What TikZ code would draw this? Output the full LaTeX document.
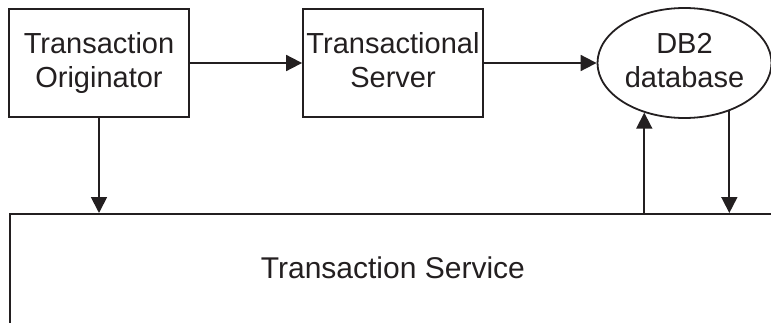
\documentclass[tikz,border=0pt]{standalone}
\usepackage{fontspec}
\setmainfont{Liberation Sans}
\usetikzlibrary{arrows.meta,shapes.geometric}

\definecolor{ink}{HTML}{231F20}
% keeps the last line of every label equally deep
\newcommand{\lastdepth}{\rule[-6pt]{0pt}{1pt}}

\begin{document}
\begin{tikzpicture}[
    x=1pt, y=1pt,
    bx/.style={rectangle, draw, minimum width=180pt, minimum height=108pt, inner sep=0pt, align=center,
      execute at end node=\lastdepth},
    dbs/.style={ellipse, draw, minimum width=174pt, minimum height=110pt, inner sep=0pt, align=center,
      execute at end node=\lastdepth},
    every edge/.style={draw, -{Triangle[length=16pt, width=16pt]}},
    line width=1.8pt, draw=ink, text=ink,
    font=\fontsize{29}{34}\selectfont
  ]
  \useasboundingbox (0,0) rectangle (771,322);
  \clip (0,0) rectangle (771,322);
  \node[bx] (orig) at (99,259) {Transaction\\Originator};
  \node[bx] (srv) at (393,259) {Transactional\\Server};
  \node[dbs] (db2) at (684.5,259) {DB2\\database};
  \node[bx, minimum width=766pt, minimum height=114pt, anchor=north west,
    font=\fontsize{30}{34}\selectfont] (svc) at (9,109) {Transaction Service};
  \draw (orig) edge (srv);
  \draw (srv) edge (db2);
  \draw (orig) edge (orig |- svc.north);
  \draw (db2.231 |- svc.north) edge (db2.231);
  \draw (db2.313) edge (db2.313 |- svc.north);
\end{tikzpicture}
\end{document}
